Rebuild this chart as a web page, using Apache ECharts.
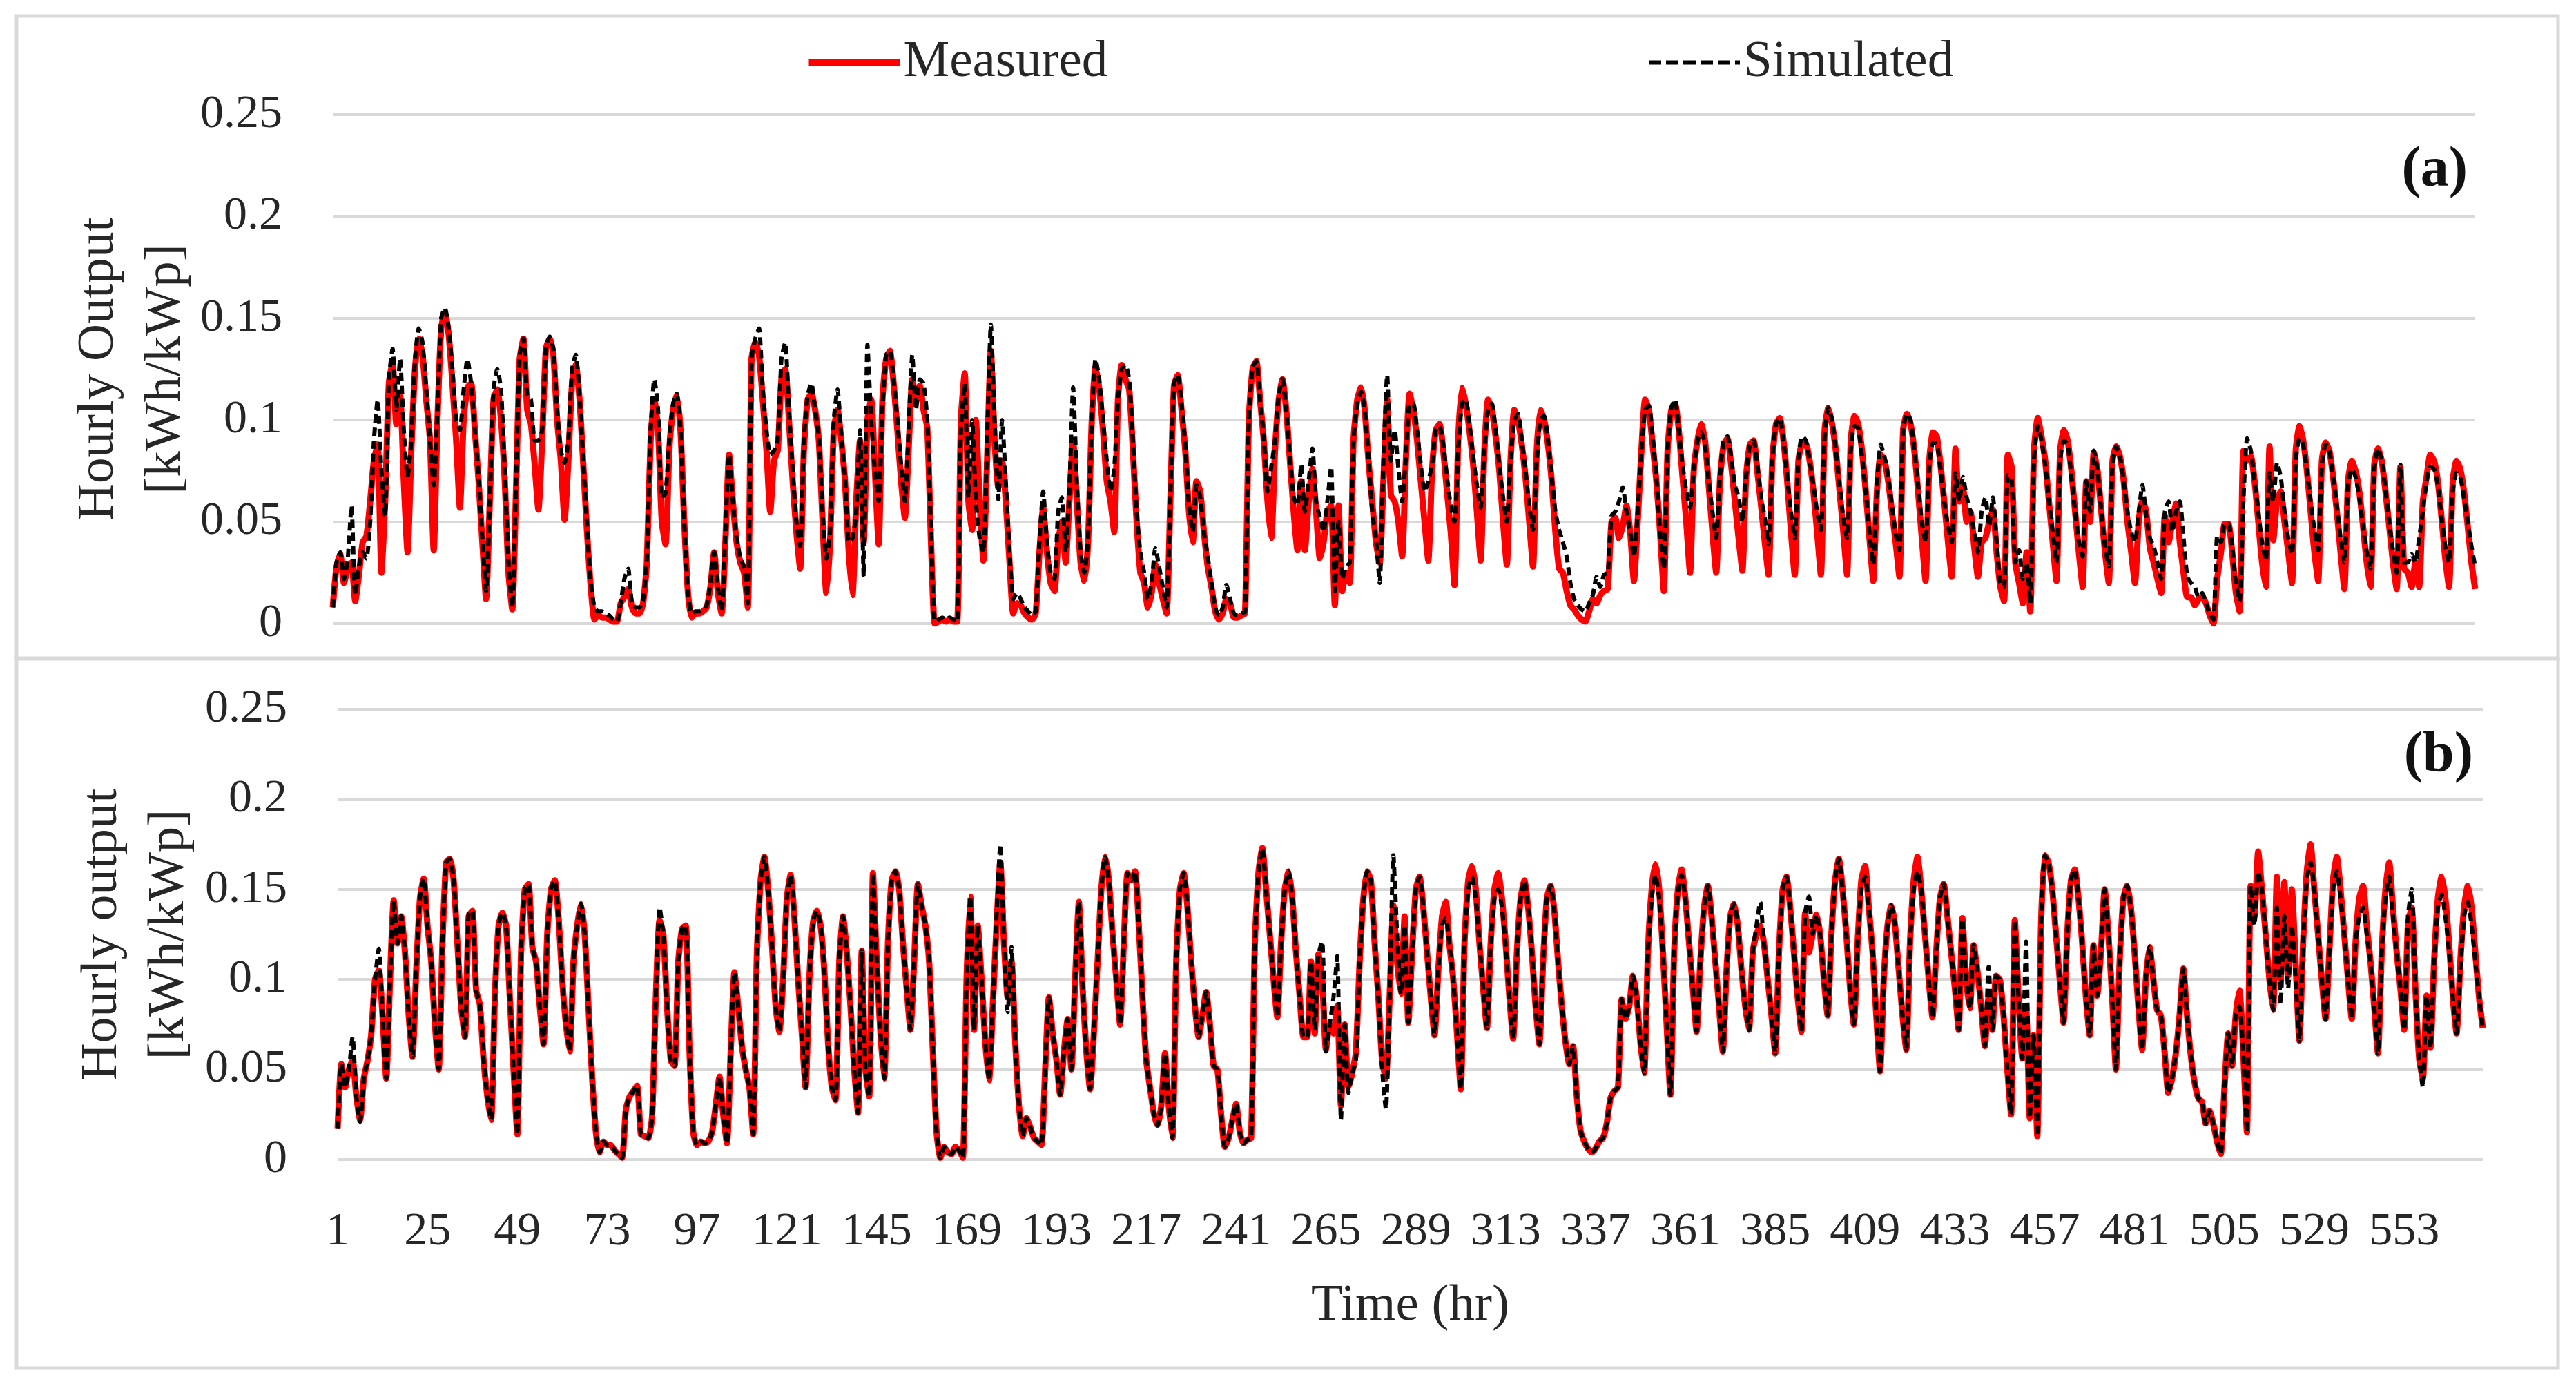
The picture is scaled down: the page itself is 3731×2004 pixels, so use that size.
<!DOCTYPE html>
<html><head><meta charset="utf-8">
<style>html,body{margin:0;padding:0;background:#fff}#c{width:3731px;height:2004px}</style>
<script src="https://cdn.jsdelivr.net/npm/echarts@6/dist/echarts.min.js"></script>
</head><body><div id="c"></div>
<script>
// Hourly output, in thousandths of kWh/kWp; 7 hours per row (one day)
const measuredA = [
8,28,34,20,27,30,11, 24,40,43,60,80,88,25, 60,118,128,98,112,70,35, 85,125,140,132,110,90,36,
100,145,153,142,118,90,57, 100,116,118,95,70,40,12, 60,110,115,100,70,25,7, 65,130,140,105,98,78,56,
90,135,140,132,100,80,51, 80,118,127,110,78,45,18, 2,4,3,3,2,1,1, 10,13,17,8,5,5,10,
30,90,110,95,50,39,85, 105,112,95,50,15,3,5, 5,6,8,18,35,15,5, 40,83,60,40,30,25,8,
130,138,132,110,85,55,80, 85,120,125,100,70,45,27, 85,110,113,105,90,50,15, 40,95,105,90,70,35,14,
60,90,40,100,110,75,39, 110,130,134,118,95,70,52, 85,120,110,117,105,96,40, 0,1,2,1,2,1,1,
100,123,60,46,100,60,31, 80,134,90,67,80,60,30, 5,10,9,5,3,2,5, 35,57,35,20,16,40,50,
30,60,90,60,30,21,40, 100,126,115,95,70,60,45, 110,127,120,115,85,50,25, 20,8,15,29,20,12,5,
60,117,122,105,85,55,40, 70,65,45,28,18,6,2, 5,12,10,3,3,4,5, 100,125,129,110,90,60,42,
85,110,120,105,80,55,36, 70,36,60,76,55,32,40, 55,58,9,58,16,25,20, 90,110,116,105,80,60,40,
30,70,110,63,60,50,33, 80,113,105,90,70,50,31, 75,95,98,85,65,45,19, 90,116,108,95,78,55,31,
85,110,105,92,75,50,29, 80,105,100,88,72,50,28, 85,105,100,88,70,45,27, 25,16,9,7,4,2,1,
6,12,10,14,16,17,50, 52,42,48,58,45,21,50, 85,110,105,88,70,45,16, 85,105,108,95,72,50,25,
75,90,98,90,68,45,25, 70,88,91,78,60,42,26, 72,88,90,75,58,40,24, 80,98,101,90,70,45,24,
80,88,88,80,65,45,24, 95,106,98,85,65,45,24, 90,102,98,85,65,42,21, 65,83,80,70,55,40,23,
95,103,98,85,65,42,21, 80,94,92,78,60,40,23, 86,60,67,50,55,38,23, 40,42,50,56,35,18,11,
83,77,30,20,10,35,6, 85,101,92,80,60,40,21, 85,95,90,75,55,35,18, 70,50,84,75,55,35,20,
80,87,82,70,50,35,20, 50,61,55,37,30,22,15, 53,40,50,59,40,25,13, 13,9,12,13,10,4,0,
22,35,49,49,35,15,6, 85,80,82,70,50,30,18, 87,41,60,65,50,35,20, 85,97,90,75,55,35,21,
80,89,85,72,55,35,17, 70,80,75,65,48,30,18, 78,86,80,65,48,30,17, 77,27,25,18,30,18,60,
72,83,80,70,52,32,18, 70,80,76,65,48,30,17];
const simulatedA = [
8,30,35,22,32,58,14, 28,35,32,50,90,110,75, 53,120,135,105,130,95,72, 90,130,145,138,115,90,68,
105,150,155,145,125,100,95, 115,130,118,95,72,42,16, 60,115,125,115,75,30,8, 70,132,140,112,110,90,90,
95,135,141,135,105,85,79, 90,125,132,112,80,48,20, 8,6,6,5,4,2,1, 10,22,27,10,8,8,12,
32,95,120,105,62,64,90, 108,113,95,50,15,5,6, 6,7,9,20,35,18,6, 45,83,60,42,32,28,10,
130,140,145,115,95,83,85, 90,130,138,105,75,50,38, 90,112,118,105,92,55,32, 45,100,115,92,72,40,42,
55,95,23,137,100,75,60, 105,132,134,120,100,78,60, 95,132,105,120,118,100,45, 1,2,3,2,3,2,1,
95,118,62,100,60,42,35, 90,147,100,61,100,70,35, 12,15,12,8,6,4,6, 40,65,40,25,22,55,62,
35,65,116,70,35,25,42, 100,130,120,100,80,65,76, 110,125,127,120,90,55,35, 25,12,20,37,28,18,8,
62,118,122,108,88,58,45, 68,62,45,33,20,8,4, 8,19,12,5,4,5,6, 100,126,129,110,92,65,77,
90,112,120,105,82,62,58, 78,55,70,86,60,52,45, 60,77,16,50,22,28,30, 90,108,114,105,82,55,42,
20,80,122,80,95,76,60, 82,108,108,95,78,65,70, 78,95,97,88,72,58,50, 85,108,110,98,82,68,57,
85,105,108,95,78,62,50, 80,100,103,90,75,58,46, 80,100,102,90,72,55,46, 40,33,20,12,9,7,6,
10,14,23,18,24,25,53, 55,60,67,55,45,33,55, 85,105,107,92,72,45,27, 85,106,110,95,78,65,57,
75,90,94,88,70,55,42, 72,90,92,82,68,62,50, 72,88,90,78,62,52,39, 80,98,101,90,72,55,42,
82,92,90,80,68,55,46, 92,106,100,85,68,52,42, 85,97,96,82,65,45,29, 68,88,82,72,58,44,36,
95,103,100,85,68,50,40, 78,89,88,76,60,48,40, 74,60,72,62,55,45,35, 55,62,48,62,40,20,18,
73,71,30,36,22,30,10, 80,97,90,78,60,45,30, 80,90,88,72,55,40,33, 70,55,85,75,55,38,28,
78,87,82,70,55,45,40, 55,68,53,42,38,30,22, 55,60,45,55,60,42,23, 20,18,13,15,10,5,2,
43,40,49,49,38,20,11, 60,91,85,70,55,40,31, 74,60,79,72,55,42,34, 80,91,88,75,60,46,36,
78,88,85,72,58,42,30, 68,76,72,62,48,35,27, 75,86,80,66,50,36,25, 78,30,30,34,30,42,55,
70,77,76,68,52,38,30, 65,74,72,62,50,38,28];
const measuredB = [
17,53,40,50,55,35,22, 45,55,70,100,105,80,45, 100,144,120,135,115,80,57, 105,145,156,130,110,75,50,
120,165,167,155,120,85,68, 135,138,94,86,55,35,22, 90,130,137,130,90,50,14, 115,150,153,118,110,85,64,
125,150,155,135,100,75,60, 110,130,142,125,85,45,15, 4,10,8,8,5,3,1, 28,35,38,41,14,13,12,
24,90,133,125,85,55,52, 110,128,130,60,15,8,10, 9,10,15,30,46,25,9, 60,104,85,63,50,40,14,
115,155,168,150,120,85,71, 100,145,158,135,100,70,40, 100,132,138,130,105,65,40, 33,110,135,115,85,50,26,
116,50,35,159,110,70,45, 120,155,160,150,120,95,72, 110,153,141,130,110,60,15, 1,7,4,3,7,5,1,
100,146,72,130,100,65,44, 85,130,165,120,90,110,65, 30,13,23,18,12,10,8, 50,90,70,55,36,60,78,
50,100,143,95,60,39,70, 110,150,168,155,125,100,75, 120,159,155,160,130,90,55, 40,26,19,30,59,30,12,
110,150,159,140,110,85,68, 80,93,75,52,50,25,7, 12,22,31,15,9,11,12, 120,160,173,150,125,100,79,
120,150,160,145,115,90,68, 68,110,70,114,100,61,75, 70,85,30,75,40,48,60, 110,145,160,155,120,90,55,
45,90,141,110,92,135,76, 115,150,157,140,115,90,69, 105,135,143,119,100,70,39, 120,155,163,150,120,95,73,
120,150,159,145,120,90,67, 115,145,155,140,115,85,64, 110,145,152,138,110,85,65, 53,63,35,16,10,6,4,
6,10,12,20,34,38,40, 89,78,85,102,90,65,48, 115,150,164,150,115,75,36, 115,150,161,145,120,95,71,
110,140,152,135,110,85,60, 105,135,142,130,105,85,72, 115,125,130,120,100,80,59, 115,150,157,140,115,90,71,
137,115,125,136,125,100,80, 125,155,167,150,125,95,75, 120,155,163,140,115,80,49, 100,130,141,130,105,80,61,
120,155,168,150,125,100,79, 115,145,153,135,115,95,72, 134,100,84,119,105,85,63, 90,72,102,100,80,50,25,
133,90,56,85,23,69,13, 130,169,165,150,125,100,76, 125,155,161,145,120,90,69, 119,91,115,150,125,90,50,
110,145,152,140,115,85,61, 100,118,100,83,80,60,37, 45,59,80,106,80,58,43, 34,32,20,27,20,10,3,
40,70,52,80,94,60,15, 152,135,171,150,125,100,83, 157,100,154,102,150,110,66, 120,160,175,150,125,100,78,
115,155,168,150,125,100,78, 120,145,152,130,110,85,59, 115,150,165,140,115,95,72, 130,140,95,56,45,91,62,
110,145,157,145,120,90,70, 110,140,152,140,115,90,73];
const simulatedB = [
17,53,40,50,68,35,21, 45,55,70,100,117,80,45, 100,144,120,135,115,80,57, 105,145,156,130,110,75,50,
120,165,167,155,120,85,68, 137,138,94,86,55,35,22, 90,130,137,130,90,50,14, 115,150,153,118,110,85,64,
125,150,155,135,100,75,60, 110,130,142,125,85,45,15, 4,10,8,8,5,3,1, 28,35,38,41,14,13,12,
24,90,140,125,85,55,52, 110,128,130,60,15,8,10, 9,10,15,30,46,25,9, 60,104,85,63,50,40,14,
115,155,168,150,120,85,71, 100,145,158,135,100,70,40, 100,132,138,130,105,65,40, 33,110,135,115,85,50,26,
116,50,35,159,110,70,45, 120,155,160,150,120,95,72, 110,153,141,130,110,60,15, 1,7,4,3,7,5,1,
100,146,72,130,100,65,44, 85,135,175,120,82,118,65, 30,13,23,18,12,10,8, 50,90,70,55,36,60,78,
50,100,143,95,60,39,70, 110,150,168,155,125,100,75, 120,159,155,160,130,90,55, 40,26,19,30,59,30,12,
110,150,159,140,110,85,68, 80,93,75,52,50,25,7, 12,22,31,15,9,11,12, 120,160,173,150,125,100,79,
120,150,160,145,115,90,68, 68,110,72,114,121,60,75, 90,113,22,75,37,48,55, 110,145,160,155,120,90,50,
28,90,169,125,92,130,76, 115,150,157,140,115,90,69, 105,130,134,119,100,70,39, 120,150,157,145,120,95,73,
120,145,150,140,118,90,67, 115,145,155,140,115,85,64, 110,145,152,138,110,85,65, 53,63,35,16,10,6,4,
6,10,12,20,34,38,40, 89,78,85,102,90,65,48, 115,145,158,145,115,75,36, 115,148,158,145,120,95,71,
110,140,152,135,110,85,60, 105,135,142,130,105,85,72, 115,130,143,120,100,80,59, 115,150,157,140,115,90,71,
137,146,125,136,125,100,80, 125,155,167,150,125,95,75, 120,150,157,140,115,80,49, 100,130,141,130,105,80,61,
120,150,160,150,125,100,79, 115,145,153,135,115,95,72, 134,100,84,119,105,85,63, 107,72,102,100,80,50,25,
133,90,56,121,23,69,13, 130,169,165,150,125,100,76, 125,155,161,145,120,90,69, 119,91,115,150,125,90,50,
110,145,152,140,115,85,61, 100,118,100,83,80,60,37, 45,59,80,106,80,58,43, 34,32,20,27,20,10,3,
40,70,52,80,85,60,15, 152,130,160,150,125,100,83, 140,86,135,95,130,100,66, 120,155,165,150,125,100,78,
115,150,160,145,125,100,78, 120,135,140,125,110,85,59, 115,145,157,135,115,95,72, 135,150,95,56,40,91,62,
110,140,147,135,115,90,70, 105,135,143,130,110,90,73];
const hours = measuredA.map((_, i) => String(i + 1));
const yTicks = [0, 0.05, 0.1, 0.15, 0.2, 0.25];
const seriesNames = ['Measured', 'Simulated'];
const yTitles = ['Hourly Output\n[kWh/kWp]', 'Hourly output\n[kWh/kWp]'];
const panelTags = ['(a)', '(b)'];
const xTitle = 'Time (hr)';

const FONT = '"Liberation Serif"', GRID = '#d9d9d9', INK = '#262626';
const toValue = a => a.map(v => v / 1000);
const xAxis = (i, labelled) => ({
  type: 'category', gridIndex: i, data: hours, boundaryGap: false,
  axisLine: {show: false}, axisTick: {show: false},
  axisLabel: labelled ? {show: true, interval: 23, fontFamily: FONT, fontSize: 68, color: INK, margin: 71} : {show: false},
  splitLine: {show: false},
  name: labelled ? xTitle : '', nameLocation: 'middle', nameGap: 175,
  nameTextStyle: {fontFamily: FONT, fontSize: 75, color: INK}
});
const yAxis = (i, gap) => ({
  type: 'value', gridIndex: i, min: yTicks[0], max: yTicks[yTicks.length - 1], interval: 0.05,
  axisLine: {show: false}, axisTick: {show: false},
  axisLabel: {fontFamily: FONT, fontSize: 68, color: INK, margin: 73, padding: [10, 0, 0, 0], formatter: v => String(+v.toFixed(2))},
  splitLine: {show: true, lineStyle: {color: GRID, width: 4}},
  name: yTitles[i], nameLocation: 'middle', nameRotate: 90, nameGap: gap, nameMoveOverlap: false,
  nameTextStyle: {fontFamily: FONT, fontSize: 75, lineHeight: 97, color: INK}
});
const red = (i, d) => ({
  name: seriesNames[0], type: 'line', xAxisIndex: i, yAxisIndex: i, data: toValue(d),
  symbol: 'none', smooth: 0.2, lineStyle: {color: '#ff0000', width: 9}, itemStyle: {color: '#ff0000'}, z: 2
});
const blk = (i, d) => ({
  name: seriesNames[1], type: 'line', xAxisIndex: i, yAxisIndex: i, data: toValue(d),
  symbol: 'none', smooth: 0.2, lineStyle: {color: '#000000', width: 6, type: [12, 7]}, itemStyle: {color: '#000000'}, z: 3
});
const legend = (name, left, w, dash) => ({
  data: [name], left, top: 48, itemWidth: 132, itemHeight: 40,
  lineStyle: {width: w, type: dash},
  itemStyle: {opacity: 0},
  textStyle: {fontFamily: FONT, fontSize: 75, color: INK}, selectedMode: false
});
const box = (x, y, w, h) => ({type: 'rect', shape: {x, y, width: w, height: h}, style: {fill: 'none', stroke: GRID, lineWidth: 5}, silent: true});
const tag = (t, x, y) => ({type: 'text', x, y, style: {text: t, fontFamily: FONT, fontWeight: 'bold', fontSize: 82, fill: '#111', textAlign: 'right', textVerticalAlign: 'middle'}});

const chart = echarts.init(document.getElementById('c'), null, {renderer: 'canvas'});
chart.setOption({
  animation: false, backgroundColor: '#fff',
  legend: [legend(seriesNames[0], 1162, 9, 'solid'), legend(seriesNames[1], 2380, 6, [18, 7])],
  grid: [
    {left: 482, top: 166, width: 3103, height: 737},
    {left: 489, top: 1027, width: 3107, height: 652}
  ],
  xAxis: [xAxis(0, false), xAxis(1, true)],
  yAxis: [yAxis(0, 193), yAxis(1, 195)],
  series: [red(0, measuredA), blk(0, simulatedA), red(1, measuredB), blk(1, simulatedB)],
  graphic: [box(24, 23, 3681, 1958), box(24, 953, 3681, 1),
    tag(panelTags[0], 3574, 248), tag(panelTags[1], 3582, 1095)]
});
</script></body></html>
